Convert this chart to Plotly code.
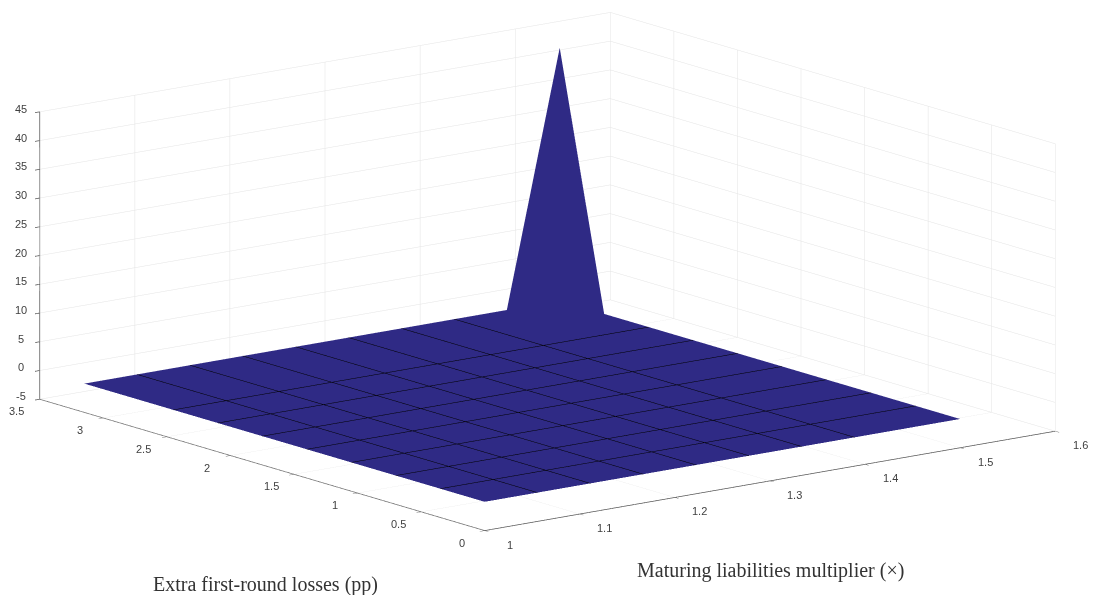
import plotly.graph_objects as go

multiplier = [1.0, 1.0556, 1.1111, 1.1667, 1.2222, 1.2778, 1.3333, 1.3889, 1.4444, 1.5]
losses = [0.0, 0.35, 0.7, 1.05, 1.4, 1.75, 2.1, 2.45, 2.8, 3.15]
# rows follow losses, columns follow multiplier
values = [
    [0, 0, 0, 0, 0, 0, 0, 0, 0, 0],
    [0, 0, 0, 0, 0, 0, 0, 0, 0, 0],
    [0, 0, 0, 0, 0, 0, 0, 0, 0, 0],
    [0, 0, 0, 0, 0, 0, 0, 0, 0, 0],
    [0, 0, 0, 0, 0, 0, 0, 0, 0, 0],
    [0, 0, 0, 0, 0, 0, 0, 0, 0, 0],
    [0, 0, 0, 0, 0, 0, 0, 0, 0, 0],
    [0, 0, 0, 0, 0, 0, 0, 0, 0, 0],
    [0, 0, 0, 0, 0, 0, 0, 0, 0, 0],
    [0, 0, 0, 0, 0, 0, 0, 0, 0, 44],
]
x_ticks = [1, 1.1, 1.2, 1.3, 1.4, 1.5, 1.6]
y_ticks = [0, 0.5, 1, 1.5, 2, 2.5, 3, 3.5]
z_ticks = [-5, 0, 5, 10, 15, 20, 25, 30, 35, 40, 45]
x_title = "Maturing liabilities multiplier (×)"
y_title = "Extra first-round losses (pp)"

SURF = "#2f2a85"
GRID = "#e4e4e4"
AXIS = "#555555"
TICK = dict(family="Liberation Sans, Arial, sans-serif", size=11, color="#404040")


def axis(vals, rng):
    return dict(
        range=rng, tickvals=vals, showticklabels=False, title=dict(text=""),
        showbackground=False, showgrid=True, gridcolor=GRID, gridwidth=1,
        showline=True, linecolor=AXIS, linewidth=1.5, zeroline=False,
        ticks="outside", ticklen=6, tickcolor=AXIS, tickwidth=1.5,
        showspikes=False,
    )


def mesh(step, start, end):
    return dict(show=True, start=start, end=end, size=step, color="#000000", width=3,
                highlight=False)


def label(x, y, z, text, dx, dy):
    return dict(x=x, y=y, z=z, text=text, showarrow=False, xshift=dx, yshift=dy,
                xanchor="center", yanchor="middle", font=TICK)


tick_labels = (
    [label(v, 0, -5, str(v), 25, -14) for v in x_ticks]
    + [label(1, v, -5, str(v), -23, -12) for v in y_ticks]
    + [label(1, 3.5, v, str(v), -19, 3) for v in z_ticks]
)

fig = go.Figure(go.Surface(
    x=multiplier, y=losses, z=values,
    colorscale=[[0, SURF], [1, SURF]], showscale=False,
    lighting=dict(ambient=1, diffuse=0, specular=0, roughness=1, fresnel=0),
    contours=dict(
        x=mesh(multiplier[1] - multiplier[0], multiplier[1], multiplier[-2]),
        y=mesh(losses[1] - losses[0], losses[1], losses[-2]),
    ),
    hoverinfo="skip",
))

fig.update_layout(
    width=1095, height=595, autosize=False,
    margin=dict(l=0, r=0, t=0, b=0),
    paper_bgcolor="white",
    showlegend=False,
    scene=dict(
        domain=dict(x=[0, 1], y=[0.0874, 1]),
        xaxis=axis(x_ticks, [1, 1.6]),
        yaxis=axis(y_ticks, [0, 3.5]),
        zaxis=axis(z_ticks, [-5, 45]),
        aspectmode="manual",
        aspectratio=dict(x=2.65, y=2.69, z=1.087),
        camera=dict(
            projection=dict(type="orthographic"),
            eye=dict(x=-2.42, y=-3.15, z=0.925),
            up=dict(x=0, y=0, z=1),
            center=dict(x=0, y=0, z=0),
        ),
        annotations=tick_labels,
    ),
    annotations=[
        dict(text=y_title, xref="paper", yref="paper", x=265 / 1095, y=1 - 584 / 595,
             xanchor="center", yanchor="middle", showarrow=False,
             font=dict(family="Liberation Serif, serif", size=20, color="#333333")),
        dict(text=x_title, xref="paper", yref="paper", x=770 / 1095, y=1 - 570 / 595,
             xanchor="center", yanchor="middle", showarrow=False,
             font=dict(family="Liberation Serif, serif", size=20, color="#333333")),
    ],
)
fig.write_html("out.html", post_script="document.body.style.margin='0';", config=dict(displayModeBar=False))
